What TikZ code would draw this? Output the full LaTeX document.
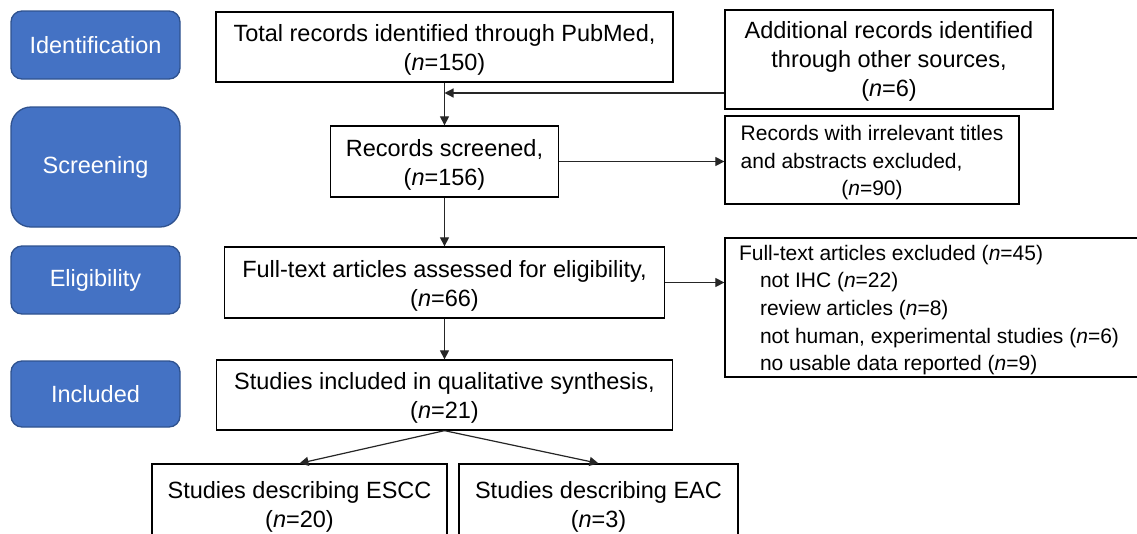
\documentclass[tikz,border=0pt]{standalone}
\usepackage{fontspec}
\setmainfont{Liberation Sans}
\usetikzlibrary{arrows.meta}
\definecolor{stageblue}{HTML}{4472C4}
\definecolor{stageedge}{HTML}{2F528F}
\definecolor{linegray}{HTML}{262626}
\newcommand{\mainsz}{\fontsize{23.5}{29}\selectfont}
\newcommand{\smallsz}{\fontsize{21}{27.7}\selectfont}
\newcommand{\ctext}[1]{\raisebox{-3.5pt}[\height][\depth]{\begin{tabular}{@{}c@{}}#1\end{tabular}}}
\newcommand{\sidetext}[2]{\raisebox{-2.5pt}[\height][\depth]{\begin{tabular}{@{}#1@{}}#2\end{tabular}}}
\begin{document}
\begin{tikzpicture}[x=1pt,y=-1pt,
  stage/.style={draw=stageedge, line width=1.3pt, fill=stageblue, text=white,
    font=\mainsz, inner sep=0pt, minimum width=169pt},
  flowbox/.style={draw=black, line width=1.3pt, fill=white, font=\mainsz,
    inner sep=0pt},
  sidebox/.style={draw=black, line width=1.3pt, fill=white, font=\smallsz,
    inner sep=0pt},
  arr/.style={draw=linegray, line width=1.2pt, -{Triangle[length=9pt,width=9pt]}}
]
\path[use as bounding box] (0,0) rectangle (1137,533);
\fill[white] (0,0) rectangle (1137,533);
\clip (0,0) rectangle (1137,533);

% stage labels
\node[stage, rounded corners=11pt, minimum height=68pt] (idb) at (95.5,45) {Identification};
\node[stage, rounded corners=20pt, minimum height=120pt] (scb) at (95.5,167) {Screening};
\node[stage, rounded corners=11pt, minimum height=68pt] (elb) at (95.5,280) {Eligibility};
\node[stage, rounded corners=11pt, minimum height=66pt] (inb) at (95.5,394) {Included};

% main flow
\node[flowbox, minimum width=457pt, minimum height=70pt] (total) at (444.5,47)
  {\ctext{Total records identified through PubMed,\\(\textit{n}=150)}};
\node[flowbox, minimum width=328pt, minimum height=99pt] (add) at (889,59.5)
  {\raisebox{-2pt}[\height][\depth]{\begin{tabular}{@{}c@{}}Additional records identified\\through other sources,\\(\textit{n}=6)\end{tabular}}};
\node[flowbox, minimum width=228pt, minimum height=71pt] (rec) at (444.5,161.5)
  {\ctext{Records screened,\\(\textit{n}=156)}};
\node[sidebox, minimum width=294pt, minimum height=88pt] (irr) at (872,160)
  {\sidetext{l}{Records with irrelevant titles\\and abstracts excluded,\\\multicolumn{1}{@{}c@{}}{(\textit{n}=90)}}};
\node[flowbox, minimum width=440pt, minimum height=71pt] (ft) at (444.5,282.5)
  {\ctext{Full-text articles assessed for eligibility,\\(\textit{n}=66)}};
\node[sidebox, minimum width=425pt, minimum height=139pt] (exc) at (937.5,307.5)
  {\sidetext{p{397pt}}{Full-text articles excluded (\textit{n}=45)\\
   \hspace*{21pt}not IHC (\textit{n}=22)\\
   \hspace*{21pt}review articles (\textit{n}=8)\\
   \hspace*{21pt}not human, experimental studies (\textit{n}=6)\\
   \hspace*{21pt}no usable data reported (\textit{n}=9)}};
\node[flowbox, minimum width=456pt, minimum height=70pt] (inc) at (444.5,395)
  {\ctext{Studies included in qualitative synthesis,\\(\textit{n}=21)}};
\node[flowbox, minimum width=295pt, minimum height=80pt] (escc) at (299.5,504)
  {\ctext{Studies describing ESCC\\(\textit{n}=20)}};
\node[flowbox, minimum width=279pt, minimum height=80pt] (eac) at (598.5,504)
  {\ctext{Studies describing EAC\\(\textit{n}=3)}};

% connectors
\coordinate (join) at (444.5,93);
\draw[arr] (total.south) -- (rec.north);
\draw[arr] (add.west |- join) -- (join);
\draw[arr] (rec.east) -- (rec.east -| irr.west);
\draw[arr] (rec.south) -- (ft.north);
\draw[arr] (ft.east) -- (ft.east -| exc.west);
\draw[arr] (ft.south) -- (inc.north);
\draw[arr] (inc.south) -- (escc.north);
\draw[arr] (inc.south) -- (eac.north);
\end{tikzpicture}
\end{document}
